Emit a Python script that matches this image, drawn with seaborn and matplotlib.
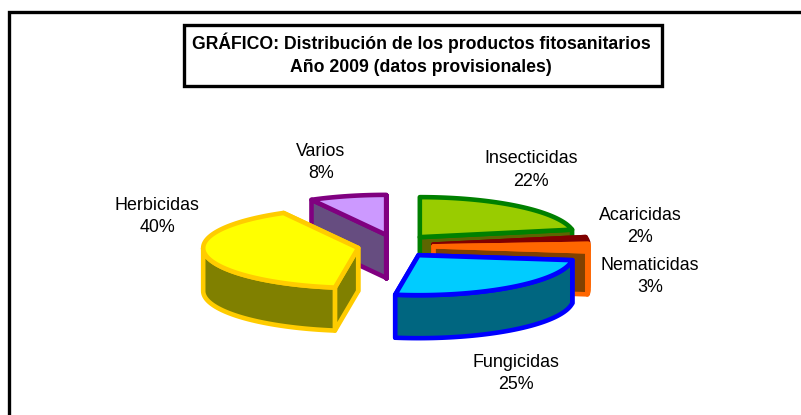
import numpy as np
import matplotlib
matplotlib.use("Agg")
import matplotlib.pyplot as plt
from matplotlib.patches import Polygon, Rectangle
import seaborn as sns

categories = ["Insecticidas", "Acaricidas", "Nematicidas", "Fungicidas", "Herbicidas", "Varios"]
values = [22.0, 2.0, 3.0, 25.4, 39.6, 8.0]
top_colors = ["#99CC00", "#800000", "#FF6600", "#00CCFF", "#FFFF00", "#CC99FF"]
side_colors = ["#5C6600", "#660000", "#804000", "#006680", "#808000", "#664D80"]
edge_colors = ["#008000", "#800000", "#FF6600", "#0000FF", "#FFCC00", "#800080"]
title_lines = ["GRÁFICO: Distribución de los productos fitosanitarios", "Año 2009 (datos provisionales)"]
label_centers = [(531, 170), (640, 226.5), (650, 276.5), (516, 373.5), (157, 216.5), (321, 162.5)]
draw_order = [5, 0, 1, 2, 4, 3]

CX, CY = 395.6, 246.0
RX, RY = 155.0, 40.0
EX, EY = 38.0, 11.5
DEPTH = 43.0
LW = 3.3

sns.set_theme(style="white")
plt.rcParams["font.family"] = ["Liberation Sans", "DejaVu Sans"]

fig = plt.figure(figsize=(8.01, 4.15), dpi=100, facecolor="white")
ax = fig.add_axes([0, 0, 1, 1])
ax.set_xlim(0, 801)
ax.set_ylim(415, 0)
ax.axis("off")

# chart frame: only left and top edges fall inside the crop
ax.plot([8.5, 8.5, 806], [420, 12.5, 12.5], color="black", lw=2.4, solid_joinstyle="miter")

fracs = np.array(values, dtype=float) / sum(values)
ends = np.cumsum(fracs) * 2 * np.pi
starts = ends - fracs * 2 * np.pi


def ell(t, cx, cy, dy=0.0):
    return np.column_stack([cx + RX * np.sin(t), cy - RY * np.cos(t) + dy])


for i in draw_order:
    a0, a1 = starts[i], ends[i]
    mid = (a0 + a1) / 2
    cx = CX + EX * np.sin(mid)
    cy = CY - EY * np.cos(mid)
    style = dict(edgecolor=edge_colors[i], linewidth=LW, joinstyle="round")
    tip = np.array([[cx, cy]])
    # radial cut faces, the one turned away first
    for a in sorted((a0, a1), key=lambda v: -np.cos(v)):
        outer = ell(np.array([a]), cx, cy)
        quad = np.vstack([tip, outer, outer + [0, DEPTH], tip + [0, DEPTH]])
        ax.add_patch(Polygon(quad, closed=True, facecolor=side_colors[i], **style))
    # outer rim, only the part turned towards the viewer
    r0, r1 = max(a0, np.pi / 2), min(a1, 1.5 * np.pi)
    if r1 > r0:
        t = np.linspace(r0, r1, 60)
        top = ell(t, cx, cy)
        ax.add_patch(Polygon(np.vstack([top, (top + [0, DEPTH])[::-1]]), closed=True,
                             facecolor=side_colors[i], **style))
    # top face
    t = np.linspace(a0, a1, 80)
    ax.add_patch(Polygon(np.vstack([tip, ell(t, cx, cy)]), closed=True,
                         facecolor=top_colors[i], **style))

for name, val, (x, y) in zip(categories, values, label_centers):
    ax.text(x, y, f"{name}\n{val:.0f}%", ha="center", va="center", fontsize=12.9,
            color="black", linespacing=1.4)

ax.add_patch(Rectangle((184, 25.5), 478, 61, facecolor="white", edgecolor="black", lw=2.4))
ax.text(421, 54.5, "\n".join(title_lines), ha="center", va="center", fontsize=12.7,
        fontweight="bold", color="black", linespacing=1.46)

fig.savefig("out.png", dpi=100, facecolor="white")
